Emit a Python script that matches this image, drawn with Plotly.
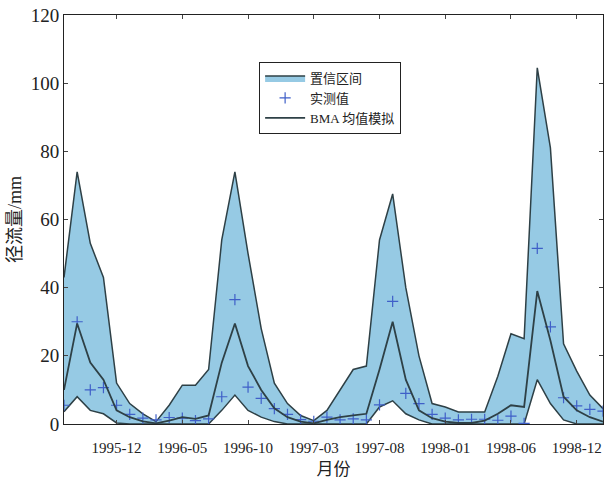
import plotly.graph_objects as go

months = list(range(42))
tick_pos = [4, 9, 14, 19, 24, 29, 34, 39]
tick_labels = ["1995-12", "1996-05", "1996-10", "1997-03", "1997-08", "1998-01", "1998-06", "1998-12"]

upper = [43, 74, 53, 43, 12, 6, 3, 0.7, 5.5, 11.4, 11.4, 16, 54, 74, 50, 28, 12, 6, 2.5, 1,
         4, 10, 16, 17, 54, 67.5, 40, 20, 6, 5, 3.5, 3.5, 3.5, 14, 26.5, 25, 104.5, 81, 23.5, 15.5, 8.5, 4.5]
mean = [10, 29.5, 18, 13, 4, 2, 0.8, 0.2, 1, 2, 1.5, 2.5, 18, 29.5, 17, 10, 4.6, 2, 0.7, 0.2,
        1.2, 2, 2.5, 3, 16, 30, 13, 4, 1.7, 0.7, 0.3, 0.3, 1, 3, 5.5, 5, 39, 24.5, 8, 4, 2, 0.7]
lower = [3.6, 8, 4, 3, 0.3, 0, 0, 0, 0, 0, 0, 0, 4, 8.5, 4, 2, 0.7, 0, 0, 0,
         0, 0, 0, 0, 5, 6.8, 3, 1.2, 0, 0, 0, 0, 0, 0, 0, 0, 13, 6, 1.2, 0, 0, 0]
observed = [5.5, 30, 10, 10.7, 5.5, 2.8, 1.7, 1.2, 1.9, 1.7, 1.0, 1.5, 8, 36.5, 10.8, 7.5, 4.5, 2.8, 1.3, 0.8,
            2, 1.2, 1.5, 1.2, 5.6, 36, 9, 6, 2.8, 1.7, 1.2, 1.4, 1.4, 1.1, 2.3, 0.2, 51.5, 28.5, 7.7, 5.3, 4.3, 3.8]

line_col = "#2e4046"
fill_col = "rgba(150,202,228,1)"
serif = "Liberation Serif, Noto Sans CJK SC, serif"

fig = go.Figure()
fig.add_trace(go.Scatter(x=months, y=lower, mode="lines", line=dict(color=line_col, width=1.5),
                         showlegend=False, hoverinfo="skip"))
fig.add_trace(go.Scatter(x=months, y=upper, mode="lines", line=dict(color=line_col, width=1.5),
                         fill="tonexty", fillcolor=fill_col, name="置信区间"))
fig.add_trace(go.Scatter(x=months, y=observed, mode="markers", name="实测值",
                         marker=dict(symbol="cross-thin", size=8, line=dict(color="#3f5fc8", width=1.2))))
fig.add_trace(go.Scatter(x=months, y=mean, mode="lines", name="BMA 均值模拟",
                         line=dict(color=line_col, width=1.8)))

fig.update_layout(
    width=606, height=482,
    margin=dict(l=64, r=3, t=15, b=58),
    paper_bgcolor="white", plot_bgcolor="white",
    font=dict(family=serif, color="#222", size=14),
    legend=dict(x=0.362, y=0.885, xanchor="left", yanchor="top",
                bordercolor="#222", borderwidth=1, bgcolor="white",
                font=dict(size=13, family=serif), itemwidth=40,
                traceorder="normal", tracegroupgap=0),
)
fig.update_xaxes(range=[0, 41], tickmode="array", tickvals=tick_pos, ticktext=tick_labels,
                 ticks="inside", ticklen=4, showline=True, linecolor="#222", linewidth=1,
                 mirror="ticks", showgrid=False, zeroline=False,
                 tickfont=dict(size=15, family=serif), ticklabelstandoff=10,
                 title=dict(text="月份", font=dict(size=17, family=serif), standoff=8))
fig.update_yaxes(range=[0, 120], tickvals=[0, 20, 40, 60, 80, 100, 120],
                 ticks="inside", ticklen=4, showline=True, linecolor="#222", linewidth=1,
                 mirror="ticks", showgrid=False, zeroline=False,
                 tickfont=dict(size=19, family=serif),
                 title=dict(text="径流量/mm", font=dict(size=18, family=serif), standoff=4))

fig.write_html("out.html")
